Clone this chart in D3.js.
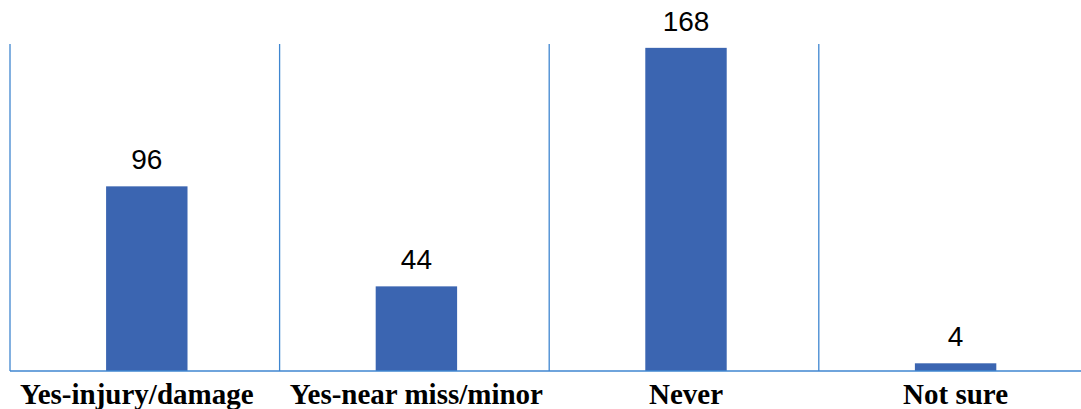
<!DOCTYPE html>
<html>
<head>
<meta charset="utf-8">
<script src="https://cdn.jsdelivr.net/npm/d3@7"></script>
<style>
  html, body { margin: 0; padding: 0; background: #ffffff; }
  svg { display: block; }
  .cat-label { font-family: "Liberation Serif", "Times New Roman", Tinos, "DejaVu Serif", serif; font-weight: bold; }
  .val-label { font-family: "Liberation Sans", Arial, sans-serif; }
</style>
</head>
<body>
<svg id="chart" width="1081" height="409"></svg>
<script>
// Survey responses per answer category
const categories = ["Yes-injury/damage", "Yes-near miss/minor", "Never", "Not sure"];
const counts = [96, 44, 168, 4];

const width = 1081, height = 409;
const plotLeft = 10, bandStep = 269.6;
const baseY = 371, topY = 44;

const svg = d3.select("#chart");

const x = d3.scaleBand()
  .domain(categories)
  .range([plotLeft, plotLeft + bandStep * categories.length])
  .paddingInner(0)
  .paddingOuter(0);

const y = d3.scaleLinear()
  .domain([0, 170])
  .range([baseY, topY]);

const barW = x.bandwidth() * 0.302;
const lineColor = "#3f86d0";

// vertical category separators
const boundaries = categories.map(c => x(c)).concat([x(categories[categories.length - 1]) + x.bandwidth()]);
svg.append("g")
  .selectAll("line")
  .data(boundaries)
  .join("line")
  .attr("x1", d => d).attr("x2", d => d)
  .attr("y1", topY).attr("y2", baseY)
  .attr("stroke", lineColor)
  .attr("stroke-width", 1.3);

// bars
svg.append("g")
  .selectAll("rect")
  .data(counts)
  .join("rect")
  .attr("x", (d, i) => x(categories[i]) + x.bandwidth() / 2 - barW / 2 + 2)
  .attr("width", barW)
  .attr("y", d => y(d))
  .attr("height", d => baseY - y(d))
  .attr("fill", "#3b65b1");

// baseline
svg.append("line")
  .attr("x1", plotLeft).attr("x2", width)
  .attr("y1", baseY).attr("y2", baseY)
  .attr("stroke", lineColor)
  .attr("stroke-width", 1.6);

// value labels
svg.append("g")
  .selectAll("text")
  .data(counts)
  .join("text")
  .attr("class", "val-label")
  .attr("x", (d, i) => x(categories[i]) + x.bandwidth() / 2 + 2)
  .attr("y", d => y(d) - 17)
  .attr("text-anchor", "middle")
  .attr("font-size", 28)
  .attr("fill", "#000")
  .text(d => d);

// category labels
svg.append("g")
  .selectAll("text")
  .data(categories)
  .join("text")
  .attr("class", "cat-label")
  .attr("x", (d, i) => x(d) + x.bandwidth() / 2 + (i === 0 ? -8 : 2))
  .attr("y", 404)
  .attr("text-anchor", "middle")
  .attr("font-size", 29)
  .attr("fill", "#000")
  .text(d => d);
</script>
</body>
</html>
